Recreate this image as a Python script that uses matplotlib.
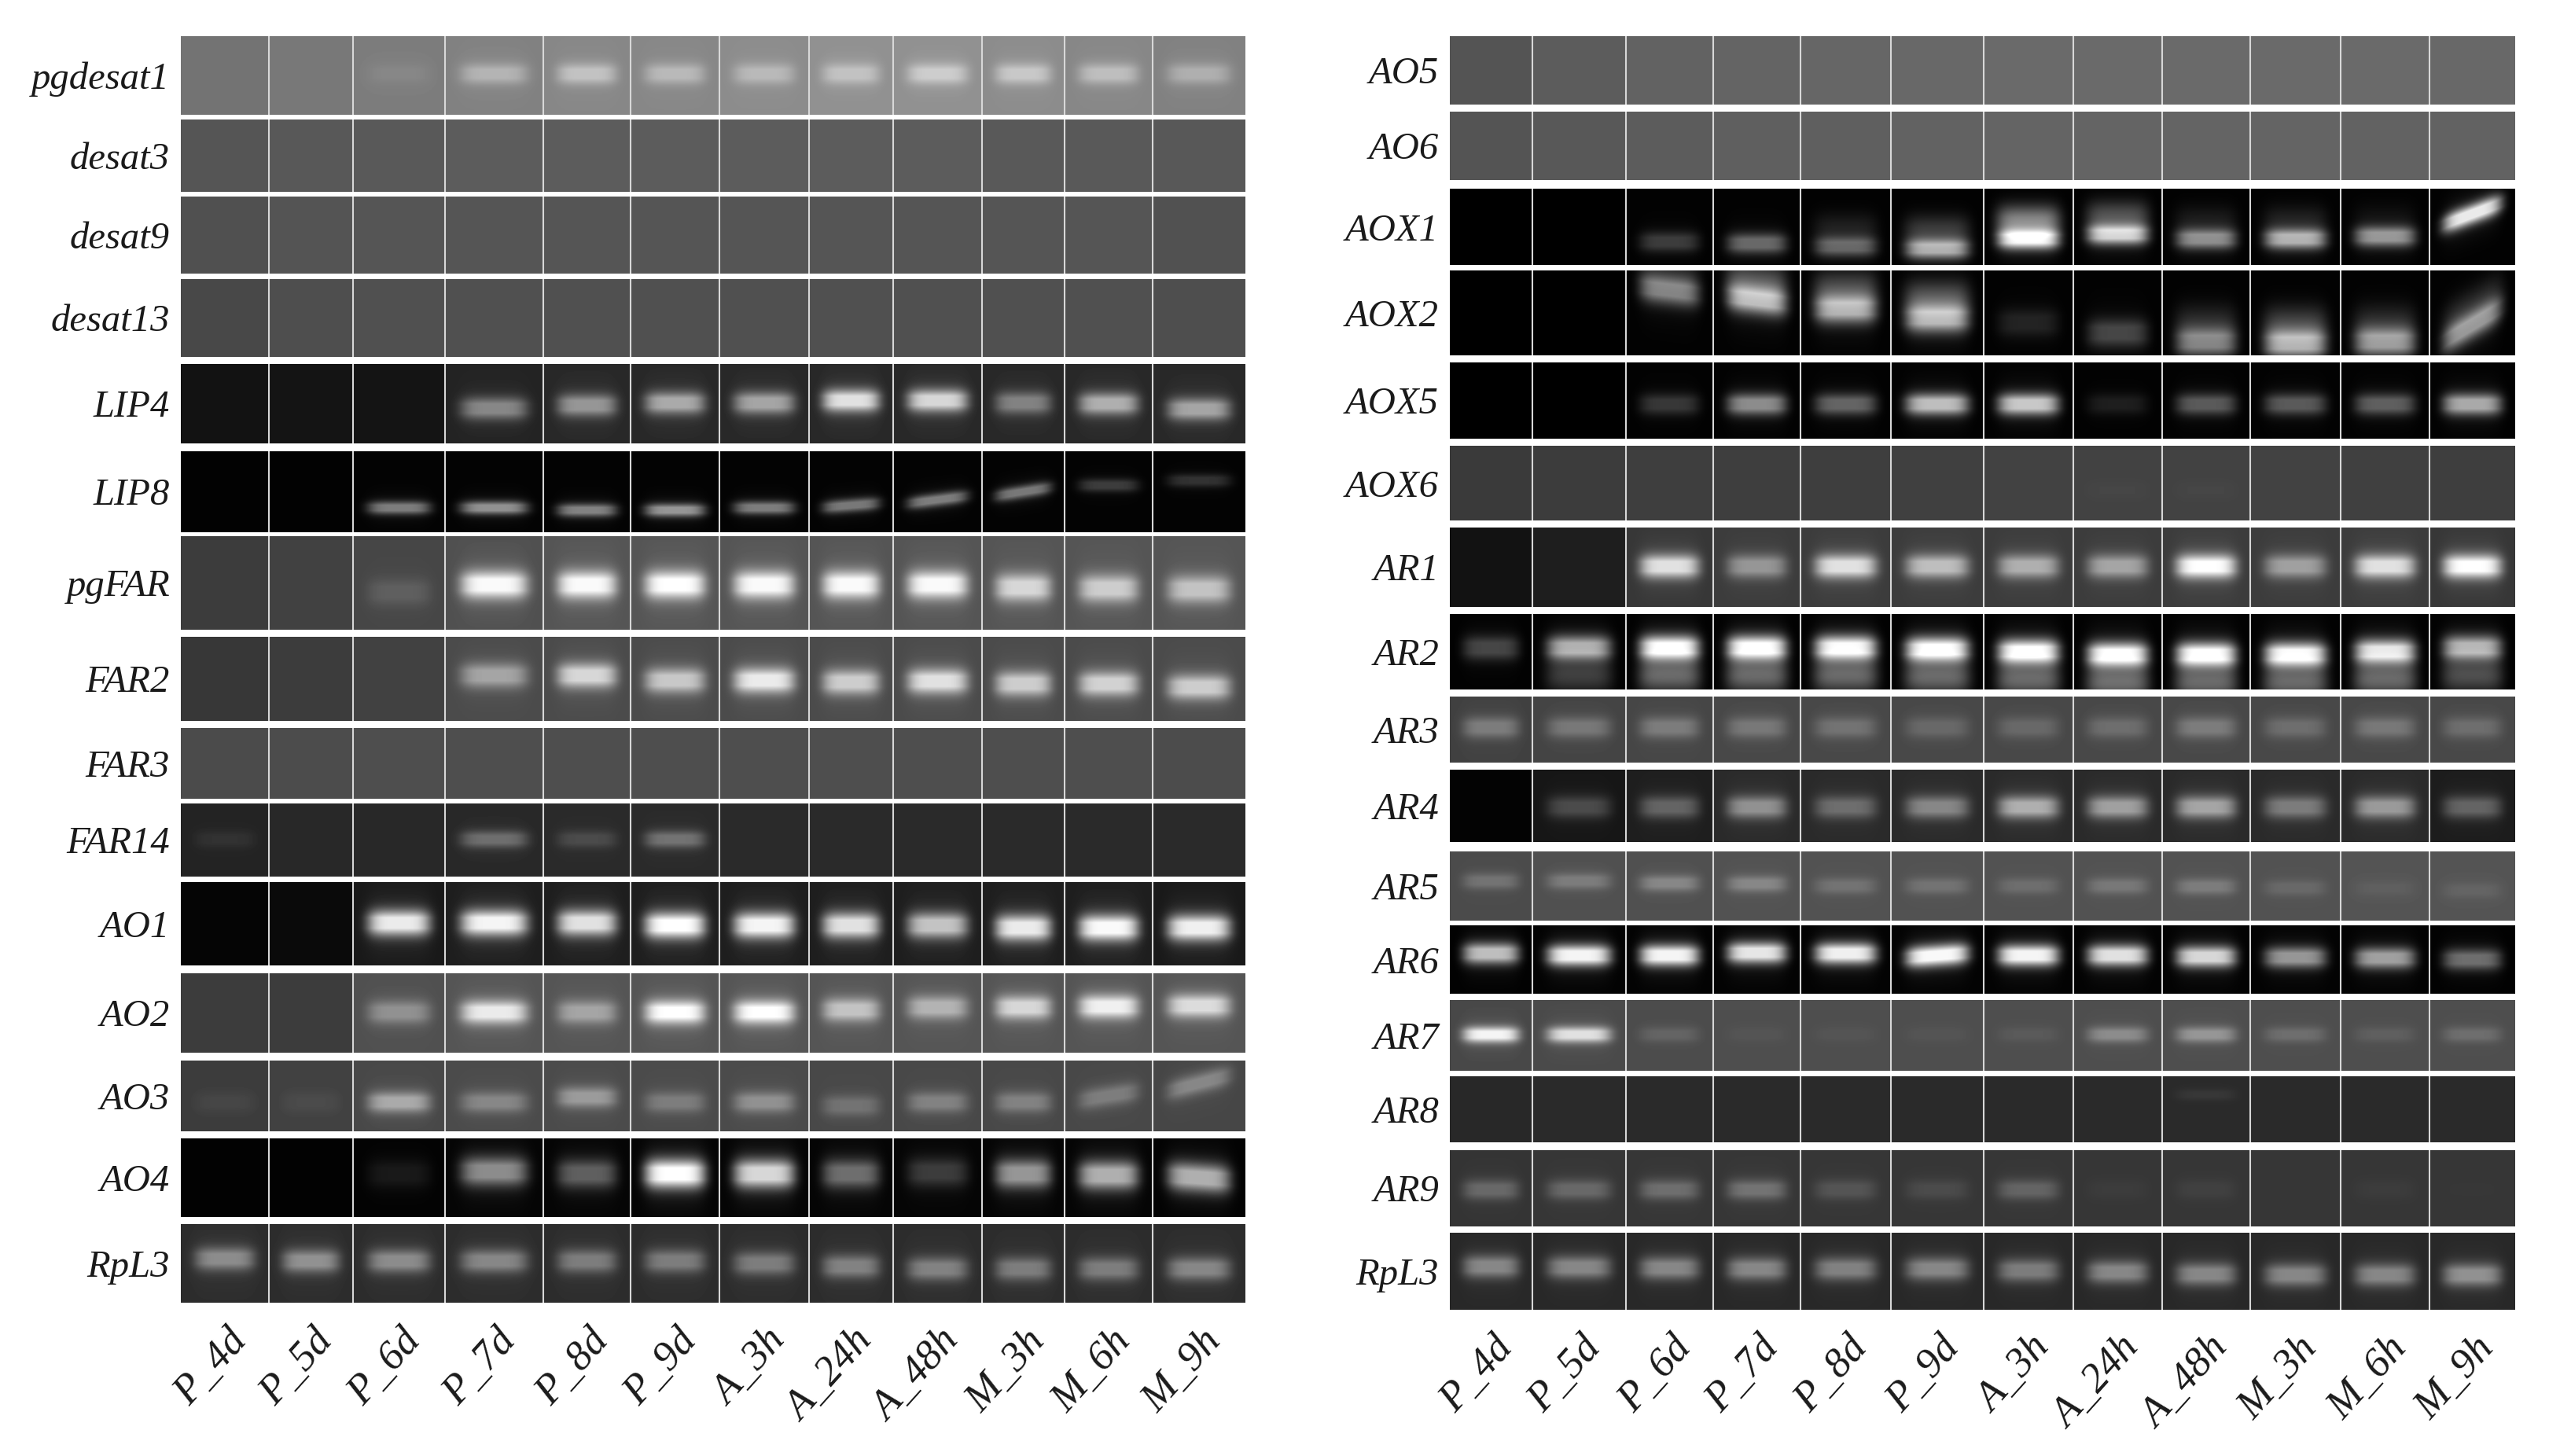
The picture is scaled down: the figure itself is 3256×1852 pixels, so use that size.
import numpy as np
import matplotlib
matplotlib.use("Agg")
import matplotlib.pyplot as plt

samples = ["P_4d","P_5d","P_6d","P_7d","P_8d","P_9d","A_3h","A_24h","A_48h","M_3h","M_6h","M_9h"]

# ---------- left panel ----------
left_genes = ["pgdesat1","desat3","desat9","desat13","LIP4","LIP8","pgFAR","FAR2","FAR3","FAR14","AO1","AO2","AO3","AO4","RpL3"]
left_bg = [
 [115,120,125,130,135,135,140,145,145,140,135,130],
 [85,88,90,92,92,92,92,92,92,90,90,88],
 [80,84,85,85,85,85,85,85,85,85,85,82],
 [72,78,80,80,80,80,80,80,80,80,80,78],
 [18,20,20,35,40,40,40,40,40,40,40,40],
 [2,2,3,3,3,3,3,3,3,3,3,3],
 [60,65,70,80,85,85,85,85,85,85,85,85],
 [55,60,65,75,75,75,75,75,75,75,75,75],
 [75,76,78,78,78,78,78,78,78,78,78,76],
 [35,40,40,40,42,42,42,42,42,42,42,42],
 [5,10,25,30,30,30,30,30,30,30,30,25],
 [60,60,80,85,85,85,85,85,85,85,85,85],
 [60,65,72,75,75,75,75,72,72,72,72,70],
 [2,2,3,5,5,5,5,5,5,5,5,3],
 [45,45,45,45,45,45,45,45,45,45,45,45],
]
left_peak = [
 [0,0,135,180,195,185,185,195,205,200,190,175],
 [0]*12,
 [0]*12,
 [0]*12,
 [0,0,0,135,150,170,165,225,215,130,175,165],
 [0,0,125,145,130,150,125,120,125,120,60,50],
 [0,0,95,250,250,255,250,250,250,215,205,195],
 [0,0,0,165,215,200,235,205,225,205,210,205],
 [0]*12,
 [50,0,0,110,75,115,0,0,0,0,0,0],
 [0,0,235,245,225,255,245,225,195,235,250,240],
 [0,0,145,235,165,255,255,195,180,215,240,220],
 [70,75,170,135,155,125,145,115,130,130,125,135],
 [0,0,25,140,95,255,215,110,60,150,175,175],
 [140,145,140,135,125,125,125,130,130,125,125,135],
]
left_pos = [
 [.48]*12,
 [.5]*12,
 [.5]*12,
 [.5]*12,
 [.5,.5,.5,.56,.52,.49,.49,.46,.46,.49,.50,.57],
 [.7,.7,.70,.70,.73,.73,.70,.67,.60,.50,.42,.36],
 [.55,.55,.60,.52,.52,.52,.52,.52,.52,.55,.56,.57],
 [.5,.5,.5,.46,.46,.52,.52,.54,.53,.56,.56,.60],
 [.5]*12,
 [.49]*12,
 [.49,.49,.49,.49,.49,.52,.52,.52,.52,.55,.55,.55],
 [.49,.49,.49,.49,.49,.49,.49,.46,.43,.43,.42,.41],
 [.59,.59,.59,.59,.52,.59,.59,.64,.59,.59,.50,.32],
 [.45,.45,.45,.42,.45,.45,.45,.45,.43,.45,.47,.50],
 [.44,.47,.47,.47,.47,.47,.50,.54,.57,.57,.57,.57],
]
left_sigma = [.09,.1,.1,.1,.095,.055,.1,.1,.1,.08,.105,.1,.1,.125,.1]

# ---------- right panel ----------
right_genes = ["AO5","AO6","AOX1","AOX2","AOX5","AOX6","AR1","AR2","AR3","AR4","AR5","AR6","AR7","AR8","AR9","RpL3"]
right_bg = [
 [85,92,98,100,102,104,106,106,106,106,106,104],
 [85,88,92,95,95,98,100,100,100,100,98,98],
 [0,0,2,2,2,2,2,2,2,2,2,2],
 [0,0,2,2,2,2,2,2,2,2,2,2],
 [0,0,2,2,2,2,2,2,2,2,2,2],
 [58,60,62,62,62,64,66,66,66,66,64,62],
 [18,30,55,60,60,60,60,60,60,60,60,55],
 [2,2,2,2,2,2,2,2,2,2,2,2],
 [65,68,70,72,72,72,72,72,72,72,72,72],
 [3,22,30,42,42,42,42,42,42,42,42,28],
 [75,80,80,82,82,82,82,82,82,82,85,85],
 [2,3,3,3,3,3,3,3,3,3,3,2],
 [72,74,76,78,78,78,78,78,78,78,78,78],
 [40,42,42,42,42,42,42,42,42,42,42,42],
 [52,54,54,54,54,54,54,54,54,54,54,54],
 [40,40,40,40,40,40,40,40,40,40,40,40],
]
right_peak = [
 [0]*12,
 [0]*12,
 [0,0,60,105,100,170,240,205,140,175,150,235],
 [0,0,130,185,175,180,35,70,130,175,155,150],
 [0,0,55,140,100,190,200,30,90,90,95,170],
 [0,0,0,0,0,0,0,70,70,0,0,0],
 [0,0,225,150,225,190,175,165,255,160,225,255],
 [70,175,255,255,250,255,255,255,255,250,230,180],
 [125,120,125,120,115,105,105,110,125,110,120,110],
 [0,75,100,145,110,135,175,160,165,125,155,100],
 [115,125,135,135,115,115,110,120,125,105,95,100],
 [190,245,245,230,240,250,245,225,215,150,160,110],
 [245,225,100,85,85,85,90,140,150,110,95,110],
 [0,0,0,0,0,0,0,0,55,0,0,0],
 [105,105,110,115,85,75,100,60,65,0,60,55],
 [135,135,135,135,130,135,125,135,135,135,135,145],
]
right_pos = [
 [.5]*12,
 [.5]*12,
 [.7,.7,.70,.72,.76,.79,.66,.60,.66,.66,.63,.33],
 [.23,.23,.23,.34,.45,.56,.62,.74,.84,.86,.84,.64],
 [.55,.55,.55,.55,.55,.55,.55,.55,.55,.55,.55,.55],
 [.6]*12,
 [.49]*12,
 [.45,.45,.45,.45,.45,.47,.50,.54,.54,.54,.50,.45],
 [.47]*12,
 [.52]*12,
 [.43,.43,.46,.47,.50,.50,.50,.50,.51,.53,.54,.57],
 [.41,.44,.44,.40,.41,.44,.44,.44,.46,.47,.48,.50],
 [.49]*12,
 [.28]*12,
 [.52]*12,
 [.44,.45,.46,.47,.47,.47,.49,.51,.54,.55,.55,.55],
]
right_sigma = [.1,.1,.09,.115,.095,.08,.1,.11,.11,.105,.08,.105,.075,.06,.09,.1]

# secondary diffuse signal: gray level per lane
aox1_smear = [0,0,0,0,25,50,120,70,20,25,10,0]
aox2_smear = [0,0,20,60,60,70,0,0,30,50,30,30]
ar2_smear = [0,55,95,95,95,95,95,100,95,95,95,70]
smears = {("R",2): (aox1_smear,-.25,.14), ("R",3): (aox2_smear,-.25,.14), ("R",7): (ar2_smear,.38,.16)}

# slope of a band across its lane (row height per lane width)
tilts = {("L",5,7):-.08,("L",5,8):-.14,("L",5,9):-.16,("L",12,10):-.2,("L",12,11):-.34,
         ("R",2,11):-.42,("R",3,11):-.6,("R",3,2):.12,("R",3,3):.12,("R",11,5):-.1,("L",13,11):.08}

# ---------- layout, in image pixels ----------
W, H = 3256, 1852
left_x = [230,342,449,566,691,802,915,1029,1136,1249,1354,1466,1584]
left_y = [(46,146),(152,244),(250,348),(355,454),(463,564),(574,677),(682,801),(810,917),
          (926,1016),(1022,1115),(1122,1228),(1238,1339),(1349,1439),(1448,1548),(1557,1657)]
right_x = [1844,1949,2068,2179,2290,2405,2523,2637,2750,2862,2977,3090,3199]
right_y = [(46,133),(142,229),(240,337),(344,452),(461,558),(567,662),(671,772),(781,877),
           (886,970),(979,1071),(1083,1171),(1177,1264),(1272,1362),(1369,1453),(1463,1560),(1568,1666)]

def cell_image(bg, peak, pos, sigma, w, h, tilt=0.0, smear=None):
    x = np.linspace(-.5, .5, max(w, 2))
    y = np.linspace(0, 1, max(h, 2))
    X, Y = np.meshgrid(x, y)
    yc = pos + tilt * X
    img = np.full(X.shape, float(bg))
    if smear is not None and smear[0] > 0:
        level, off, sg = smear
        gx = np.exp(-(np.abs(X / .36)) ** 5)
        gy = np.exp(-((Y - yc - off) / sg) ** 2 / 2)
        img += (level) * gx * gy
    if peak > bg:
        gx = np.exp(-(np.abs(X / .345)) ** 5)
        gy = np.exp(-((Y - yc) / sigma) ** 2 / 2)
        gl = np.exp(-((Y - yc) / (sigma * 2.4)) ** 2 / 2)
        shape = gx * np.minimum(1, 1.08 * gy + .10 * gl)
        img += (peak - bg) * shape
    return np.clip(img, 0, 255)

def draw_panel(key, xs, ys, genes, bg, peak, pos, sigma):
    x0, x1 = xs[0], xs[-1]
    y0, y1 = ys[0][0], ys[-1][1]
    ax = fig.add_axes([x0 / W, 1 - y1 / H, (x1 - x0) / W, (y1 - y0) / H])
    ax.set_xlim(x0, x1)
    ax.set_ylim(y1, y0)
    for r, (top, bot) in enumerate(ys):
        sm = smears.get((key, r))
        for c in range(12):
            l, rr = xs[c], xs[c + 1]
            s = (sm[0][c], sm[1], sm[2]) if sm else None
            img = cell_image(bg[r][c], peak[r][c], pos[r][c], sigma[r], rr - l, bot - top,
                             tilts.get((key, r, c), 0.0), s)
            ax.imshow(img, cmap="gray", vmin=0, vmax=255, extent=(l, rr, bot, top),
                      aspect="auto", interpolation="bilinear", zorder=1)
        for v in xs[1:-1]:
            ax.plot([v, v], [top, bot], color="#d8d8d8", lw=1.5, zorder=2, solid_capstyle="butt")
    ax.set_xlim(x0, x1)
    ax.set_ylim(y1, y0)
    for s in ax.spines.values():
        s.set_visible(False)
    ax.set_yticks([(a + b) / 2 for a, b in ys])
    ax.set_yticklabels(genes, family="Liberation Serif", style="italic", fontsize=35, color="#1a1a1a")
    ax.set_xticks([(xs[i] + xs[i + 1]) / 2 + 2 for i in range(12)])
    ax.set_xticklabels(samples, family="Liberation Serif", style="italic", fontsize=38, color="#1a1a1a",
                       rotation=48, ha="right", va="top", rotation_mode="anchor")
    ax.tick_params(axis="both", length=0)
    ax.tick_params(axis="y", pad=10)
    ax.tick_params(axis="x", pad=18)

fig = plt.figure(figsize=(W / 100, H / 100), dpi=100, facecolor="white")
draw_panel("L", left_x, left_y, left_genes, left_bg, left_peak, left_pos, left_sigma)
draw_panel("R", right_x, right_y, right_genes, right_bg, right_peak, right_pos, right_sigma)
fig.savefig("out.png", dpi=100, facecolor="white")
